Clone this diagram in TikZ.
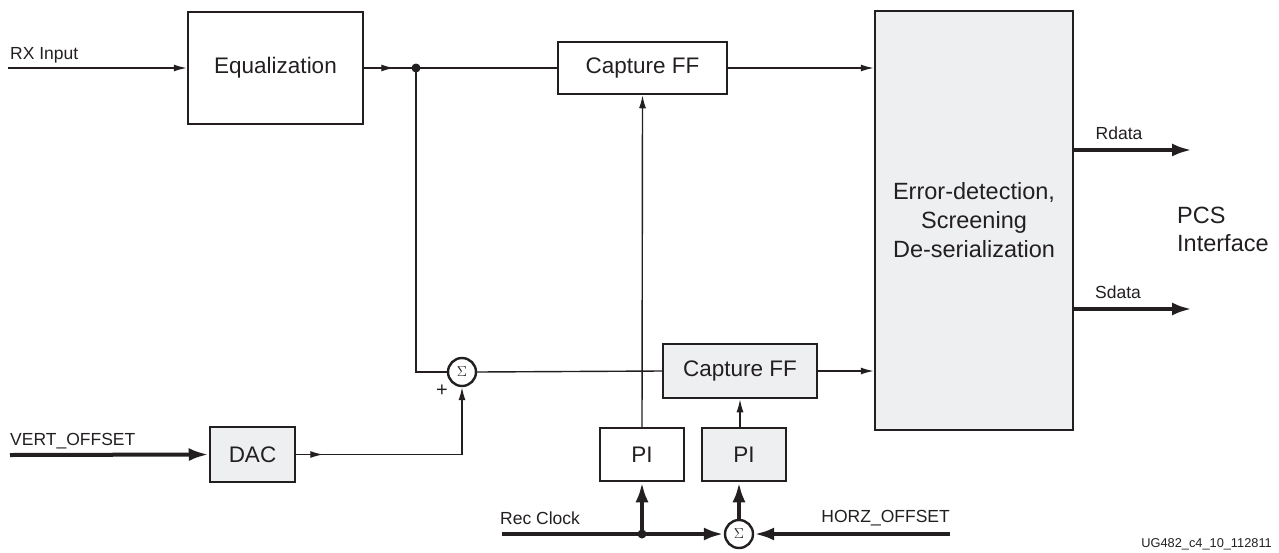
\documentclass[tikz,border=0pt]{standalone}
\usepackage{fontspec}
\setmainfont{Liberation Sans}
\usepackage{tikz}
\usetikzlibrary{
  shapes.geometric,
  positioning,
  calc,
  arrows.meta,
  decorations.markings
}
\definecolor{ink}{HTML}{231F20}
\definecolor{boxgray}{HTML}{EEEFF1}

\begin{document}
\begin{tikzpicture}[x=1pt, y=-1pt,
    blk/.style={draw=ink, line width=2.5pt, rectangle, inner sep=0pt,
                text=ink, align=center, font=\fontsize{22.5}{28}\selectfont},
    gblk/.style={blk, fill=boxgray},
    sumc/.style={draw=ink, line width=2.4pt, circle, minimum size=28pt,
                 inner sep=0pt, fill=white, text=ink},
    lbl/.style={text=ink, inner sep=0pt, font=\fontsize{17.5}{20}\selectfont},
    thinln/.style={draw=ink, line width=1.4pt},
    thinarr/.style={thinln, -{Latex[length=13pt,width=7pt]}},
    thickln/.style={draw=ink, line width=4pt},
    thickarr/.style={thickln, -{Latex[length=20pt,width=13pt]}},
    dot/.style={circle, fill=ink, inner sep=0pt, minimum size=9pt},
    midtip/.style={postaction={decorate}, decoration={markings,
                   mark=at position #1 with {\arrow{Latex[length=13pt,width=7pt]}}}},
  ]
  \useasboundingbox (0,0) rectangle (1279,552);

  % blocks
  \node[blk, minimum width=175pt, minimum height=112pt] (eq) at (275.5,68) {Equalization};
  \node[blk, minimum width=169pt, minimum height=52pt] (cap1) at (642.5,68) {Capture FF};
  \node[gblk, minimum width=154pt, minimum height=54pt] (cap2) at (740,371) {Capture FF};
  \node[gblk, minimum width=198pt, minimum height=419pt,
        font=\fontsize{23.5}{29}\selectfont] (err) at (974,220.5)
    {Error-detection,\\Screening\\De-serialization};
  \node[gblk, minimum width=85pt, minimum height=55pt] (dac) at (252.5,454.5) {DAC};
  \node[blk, minimum width=84pt, minimum height=53pt] (pia) at (642,454.5) {PI};
  \node[gblk, minimum width=84pt, minimum height=53pt] (pib) at (744,454.5) {PI};

  % adders and junctions
  \node[sumc] (s1) at (462,372) {\fontsize{15.5}{15}\selectfont$\Sigma$};
  \node[sumc] (s2) at (739,534) {\fontsize{15.5}{15}\selectfont$\Sigma$};
  \node[dot] (j1) at (416,68) {};
  \node[dot] (j2) at (642,534) {};

  % free ends
  \coordinate (rxin) at (8,68);
  \coordinate (vin) at (10,455);
  \coordinate (rcin) at (502,534);
  \coordinate (hin) at (950,534);
  \coordinate (rout) at (1192,150);
  \coordinate (sout) at (1192,309);

  % data path
  \draw[thinarr] (rxin) -- (eq.west);
  \draw[thinln, midtip=30pt] (eq.east) -- (cap1.west);
  \draw[thinarr] (cap1.east) -- (err.west |- cap1.east);
  \draw[thinln] (j1.center) |- (s1.west);
  \draw[thinln] (s1.east) -- (cap2.west);
  \draw[thinarr] (cap2.east) -- (err.west |- cap2.east);
  \draw[thinarr, midtip=27pt] (dac.east) -| (s1.south);
  \node[lbl, font=\fontsize{20}{20}\selectfont] (plus) at (442,391) {+};

  % clocks
  \draw[thinarr] (pia.north) -- (cap1.south);
  \draw[thinarr] (pib.north -| cap2.south) -- (cap2.south);
  \draw[thickln] (rcin) -- (j2.center);
  \draw[thickarr] (j2.center) -- (s2.west);
  \draw[thickarr] (j2.center) -- (pia.south);
  \draw[thickarr] (s2.north) -- (s2.north |- pib.south);
  \draw[thickarr] (hin) -- (s2.east);
  \draw[thickarr] (vin) -- (dac.west);

  % outputs
  \draw[thickarr] (err.east |- rout) -- (rout);
  \draw[thickarr] (err.east |- sout) -- (sout);

  % labels
  \node[lbl, anchor=west] (rxlbl) at (10,55) {RX Input};
  \node[lbl, anchor=west] (vlbl) at (10,441) {VERT\_OFFSET};
  \node[lbl, anchor=west] (rclbl) at (500,518) {Rec Clock};
  \node[lbl, anchor=east] (hlbl) at (950,518) {HORZ\_OFFSET};
  \node[lbl] (rlbl) at (1119,133) {Rdata};
  \node[lbl] (slbl) at (1118,292) {Sdata};
  \node[lbl, anchor=west, align=left, font=\fontsize{23.5}{28}\selectfont] (pcs)
    at (1177,229) {PCS\\Interface};
  \node[lbl, anchor=east, font=\fontsize{12.8}{14}\selectfont] (fig)
    at (1272,544) {UG482\_c4\_10\_112811};
\end{tikzpicture}
\end{document}
